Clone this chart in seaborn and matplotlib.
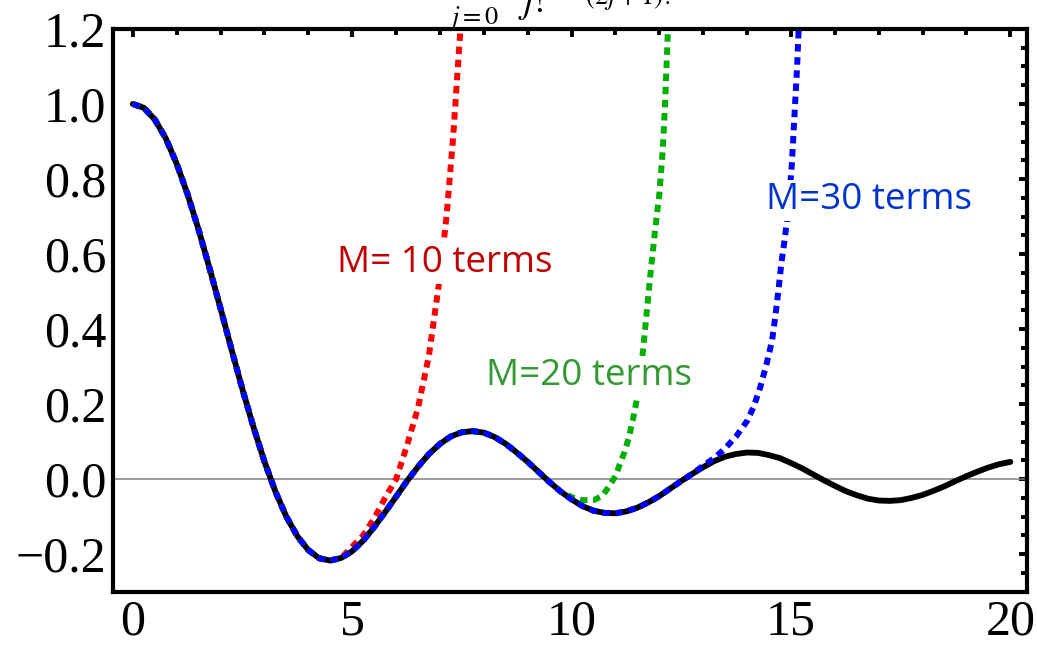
import numpy as np
import matplotlib
matplotlib.use("Agg")
import matplotlib.pyplot as plt
import seaborn as sns
from matplotlib.ticker import MultipleLocator, FuncFormatter

# sin(x)/x sampled every 0.25 on [0, 20]
x_exact = np.arange(0.0, 20.001, 0.25)
y_exact = [
    1.000, 0.990, 0.959, 0.909, 0.841, 0.759, 0.665, 0.562,
    0.455, 0.346, 0.239, 0.139, 0.047, -0.033, -0.100, -0.152,
    -0.189, -0.211, -0.217, -0.210, -0.192, -0.164, -0.128, -0.088,
    -0.047, -0.005, 0.033, 0.067, 0.094, 0.114, 0.125, 0.128,
    0.124, 0.112, 0.094, 0.071, 0.046, 0.019, -0.008, -0.033,
    -0.054, -0.072, -0.084, -0.090, -0.091, -0.086, -0.076, -0.062,
    -0.045, -0.025, -0.005, 0.014, 0.032, 0.048, 0.060, 0.067,
    0.071, 0.070, 0.064, 0.056, 0.043, 0.029, 0.013, -0.003,
    -0.018, -0.032, -0.043, -0.052, -0.057, -0.058, -0.056, -0.050,
    -0.042, -0.031, -0.019, -0.005, 0.008, 0.020, 0.031, 0.040,
    0.046,
]

# truncated series: each follows the exact curve, then breaks away
m10_shared = 20          # points in common with the exact curve (x <= 4.75)
m10_x = [5.0, 5.25, 5.5, 5.75, 6.0, 6.25, 6.5, 6.75, 7.0, 7.15, 7.3, 7.45, 7.5]
m10_y = [-0.18, -0.15, -0.105, -0.05, 0.0, 0.09, 0.19, 0.33, 0.54, 0.70, 0.91, 1.17, 1.25]

m20_shared = 39          # x <= 9.5
m20_x = [9.75, 10.0, 10.25, 10.5, 10.7, 10.85, 11.0, 11.1, 11.2, 11.3, 11.4,
         11.5, 11.6, 11.7, 11.8, 11.9, 12.0, 12.08, 12.13, 12.18, 12.21]
m20_y = [-0.033, -0.048, -0.056, -0.056, -0.045, -0.02, 0.008, 0.04, 0.07, 0.108, 0.16,
         0.22, 0.31, 0.43, 0.55, 0.66, 0.76, 0.88, 1.0, 1.15, 1.25]

m30_shared = 51          # x <= 12.5
m30_x = [12.75, 13.0, 13.25, 13.5, 13.75, 14.0, 14.15, 14.3, 14.45, 14.57, 14.65,
         14.72, 14.78, 14.84, 14.9, 14.96, 15.02, 15.08, 15.14, 15.19]
m30_y = [0.014, 0.036, 0.056, 0.082, 0.114, 0.155, 0.193, 0.245, 0.31, 0.37, 0.44,
         0.51, 0.575, 0.625, 0.68, 0.75, 0.84, 0.97, 1.1, 1.24]

labels = ["M= 10 terms", "M=20 terms", "M=30 terms"]
label_x = [7.10, 10.40, 16.78]
label_y = [0.551, 0.251, 0.719]


def series(n_shared, tail_x, tail_y):
    xs = np.concatenate([x_exact[:n_shared], tail_x])
    ys = np.concatenate([np.asarray(y_exact[:n_shared]), tail_y])
    return xs, ys


sns.set_theme(style="white")
plt.rcParams["font.family"] = ["Liberation Serif", "DejaVu Serif"]
plt.rcParams["mathtext.fontset"] = "stix"
plt.rcParams["text.color"] = "black"
plt.rcParams["xtick.labelcolor"] = "black"
plt.rcParams["ytick.labelcolor"] = "black"

fig = plt.figure(figsize=(10.37, 6.47), dpi=100)
ax = fig.add_axes([0.109, 0.0855, 0.8814, 0.8697])

ax.axhline(0, color="#7f7f7f", lw=1.1, zorder=1)

sns.lineplot(x=x_exact, y=y_exact, ax=ax, color="black", lw=4.2, zorder=2,
             solid_capstyle="round")

dots = (0, (1.25, 0.95))
colors = ["#ff0000", "#00b000", "#0000ff"]
for (n, tx, ty), c, z in zip(
        [(m10_shared, m10_x, m10_y), (m20_shared, m20_x, m20_y), (m30_shared, m30_x, m30_y)],
        colors, [3, 4, 5]):
    xs, ys = series(n, tx, ty)
    sns.lineplot(x=xs, y=ys, ax=ax, color=c, lw=4.3, linestyle=dots, zorder=z)

text_colors = ["#c00000", "#339933", "#0033cc"]
for s, tx, ty, c in zip(labels, label_x, label_y, text_colors):
    ax.text(tx, ty, s, color=c, fontsize=26.5, family="Open Sans", ha="center",
            va="baseline", zorder=10,
            bbox=dict(facecolor="white", edgecolor="none", pad=1.5))

ax.set_xlim(-0.45, 20.38)
ax.set_ylim(-0.3, 1.2)
ax.xaxis.set_major_locator(MultipleLocator(5))
ax.xaxis.set_minor_locator(MultipleLocator(1))
ax.yaxis.set_major_locator(MultipleLocator(0.2))
ax.yaxis.set_minor_locator(MultipleLocator(0.05))
ax.yaxis.set_major_formatter(FuncFormatter(lambda v, p: f"{v:.1f}".replace("-", "\u2212")))
ax.tick_params(which="both", direction="in", top=True, right=True,
               color="black", labelsize=36, labelcolor="black")
ax.tick_params(which="major", length=6, width=2.8, pad=5)
ax.tick_params(which="minor", length=4, width=2.8)
for sp in ax.spines.values():
    sp.set_linewidth(3.0)
    sp.set_color("black")
ax.set_xlabel("")
ax.set_ylabel("")

fig.text(0.432, 0.947,
         r"$\sum_{j=0}^{M}\dfrac{(-1)^j}{j!}\,\frac{j!\,x^{2j}}{(2j+1)!}$",
         fontsize=27, ha="left", va="bottom")

fig.savefig("out.png", dpi=100)
